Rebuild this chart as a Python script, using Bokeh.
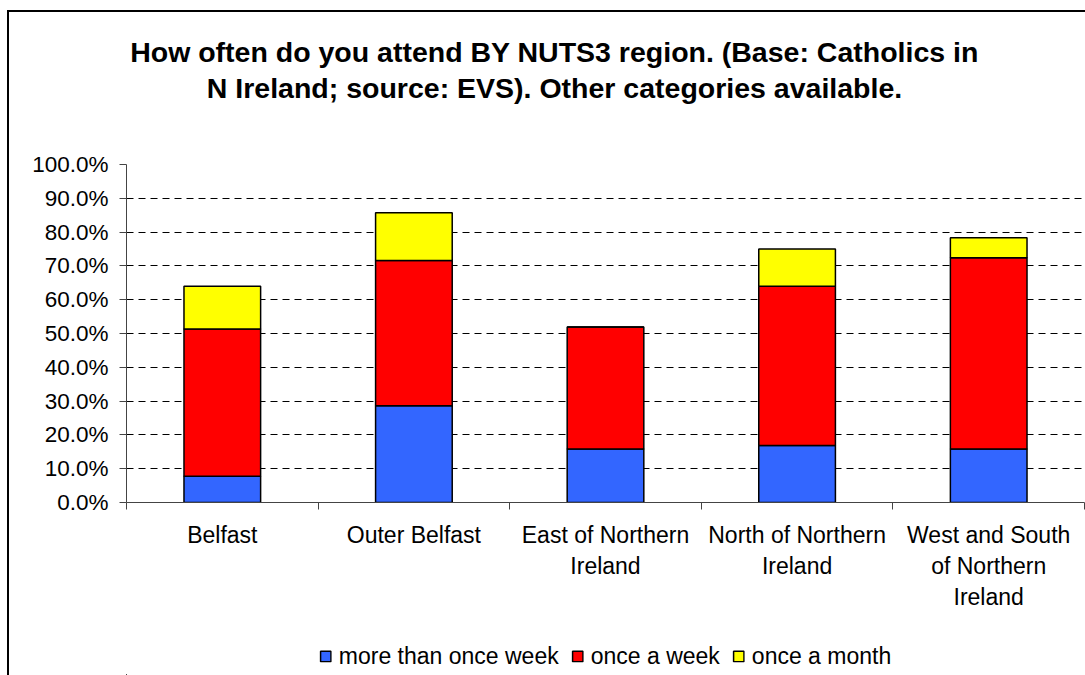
import numpy as np
from bokeh.plotting import figure
from bokeh.layouts import column
from bokeh.models import (Range1d, FixedTicker, NumeralTickFormatter, Legend,
                          LegendItem, Label, ColumnDataSource)
from bokeh.embed import file_html
from bokeh.resources import INLINE

# ---- data ----
categories = ["Belfast", "Outer Belfast", "East of Northern Ireland",
              "North of Northern Ireland", "West and South of Northern Ireland"]
tick_labels = ["Belfast", "Outer Belfast", "East of Northern\nIreland",
               "North of Northern\nIreland", "West and South\nof Northern\nIreland"]
more_than_once_week = [7.8, 28.6, 15.8, 16.9, 15.8]
once_a_week = [43.5, 43.0, 36.1, 47.1, 56.6]
once_a_month = [12.7, 14.1, 0.0, 11.0, 5.9]
series_names = ["more than once week", "once a week", "once a month"]
series_colors = ["#3366FF", "#FF0000", "#FFFF00"]
y_ticks = [0.0, 0.1, 0.2, 0.3, 0.4, 0.5, 0.6, 0.7, 0.8, 0.9, 1.0]
title_lines = ["How often do you attend BY NUTS3 region. (Base: Catholics in",
               "N Ireland; source: EVS). Other categories available."]

FONT = "Liberation Sans"
n = len(categories)
xpos = np.arange(n) + 0.5

# page geometry
OX, OY = 9, 12            # figure origin inside the chart border
W = 1085 - OX
TITLE_H = 118             # page y 12 .. 130
MAIN_H = 507              # page y 130 .. 637
LEG_H = 675 - OY - TITLE_H - MAIN_H
LEFT = 126 - OX
FRAME_H = 338
MAIN_TOP = 164 - OY - TITLE_H

src = ColumnDataSource(dict(
    x=xpos,
    s0=np.array(more_than_once_week) / 100.0,
    s1=np.array(once_a_week) / 100.0,
    s2=np.array(once_a_month) / 100.0,
))

# ---------- title figure ----------
tf = figure(width=W, height=TITLE_H, x_range=Range1d(0, 1), y_range=Range1d(0, 1),
            x_axis_type=None, y_axis_type=None, output_backend="svg",
            toolbar_location=None, min_border=0)
tf.outline_line_color = None
tf.grid.visible = False
for line, base_y in zip(title_lines, [62, 98]):
    tf.add_layout(Label(x=554 - 126, y=TITLE_H - (base_y - OY) + 11, x_units="screen",
                        y_units="screen", text=line, text_font=FONT,
                        text_font_size="28.5px", text_font_style="bold",
                        text_color="black", text_align="center",
                        text_baseline="alphabetic"))

# ---------- main figure ----------
p = figure(width=W, height=MAIN_H, x_range=Range1d(0, n), y_range=Range1d(0, 1.0),
           output_backend="svg", toolbar_location=None,
           min_border_left=LEFT, min_border_right=1, min_border_top=MAIN_TOP,
           min_border_bottom=MAIN_H - MAIN_TOP - FRAME_H)
p.outline_line_color = None

renderers = p.vbar_stack(["s0", "s1", "s2"], x="x", width=0.4, source=src,
                         fill_color=series_colors, line_color="black",
                         line_width=1.5)

p.yaxis.ticker = FixedTicker(ticks=y_ticks)
p.yaxis.formatter = NumeralTickFormatter(format="0.0%")
p.yaxis.major_label_text_font = FONT
p.yaxis.major_label_text_font_size = "22.5px"
p.yaxis.major_label_text_color = "black"
p.yaxis.major_tick_out = 7
p.yaxis.major_tick_in = 0
p.yaxis.minor_tick_line_color = None
p.yaxis.major_label_standoff = 11
p.yaxis.axis_line_color = "#444444"
p.yaxis.major_tick_line_color = "#444444"

p.xaxis.ticker = FixedTicker(ticks=list(xpos), minor_ticks=list(range(n + 1)))
p.xaxis.major_label_overrides = {float(x): lab for x, lab in zip(xpos, tick_labels)}
p.xaxis.major_tick_line_color = None
p.xaxis.major_tick_out = 0
p.xaxis.major_tick_in = 0
p.xaxis.minor_tick_out = 7
p.xaxis.minor_tick_in = 0
p.xaxis.minor_tick_line_color = "#444444"
p.xaxis.axis_line_color = "#444444"
p.xaxis.major_label_text_font = FONT
p.xaxis.major_label_text_font_size = "23px"
p.xaxis.major_label_text_color = "black"
p.xaxis.major_label_standoff = 12

p.xgrid.grid_line_color = None
p.ygrid.ticker = FixedTicker(ticks=y_ticks[1:])
p.ygrid.grid_line_color = "black"
p.ygrid.grid_line_dash = "7 5"
p.ygrid.grid_line_width = 1

# ---------- legend figure (bars kept out of view, used only for legend glyphs) ----------
lf = figure(width=W, height=LEG_H, x_range=Range1d(50, 55), y_range=Range1d(10, 11),
            x_axis_type=None, y_axis_type=None, output_backend="svg",
            toolbar_location=None, min_border_left=LEFT, min_border_right=1,
            min_border_top=0, min_border_bottom=0)
lf.outline_line_color = None
lf.grid.visible = False
leg_renderers = lf.vbar_stack(["s0", "s1", "s2"], x="x", width=0.4, source=src,
                              fill_color=series_colors, line_color="black",
                              line_width=1.5)
legend = Legend(items=[LegendItem(label=nm, renderers=[r])
                       for nm, r in zip(series_names, leg_renderers)],
                orientation="horizontal", location="center",
                label_text_font=FONT, label_text_font_size="23px",
                label_text_color="black",
                glyph_width=13, glyph_height=13, label_standoff=7, spacing=12,
                padding=0, margin=0, border_line_color=None,
                background_fill_alpha=0)
lf.add_layout(legend)

layout = column(tf, p, lf, spacing=0)
layout.margin = (OY - 2, 0, 0, OX - 2)
layout.styles = {"border-left": "2px solid black", "border-top": "2px solid black"}

open("out.html", "w").write(file_html(layout, INLINE))
